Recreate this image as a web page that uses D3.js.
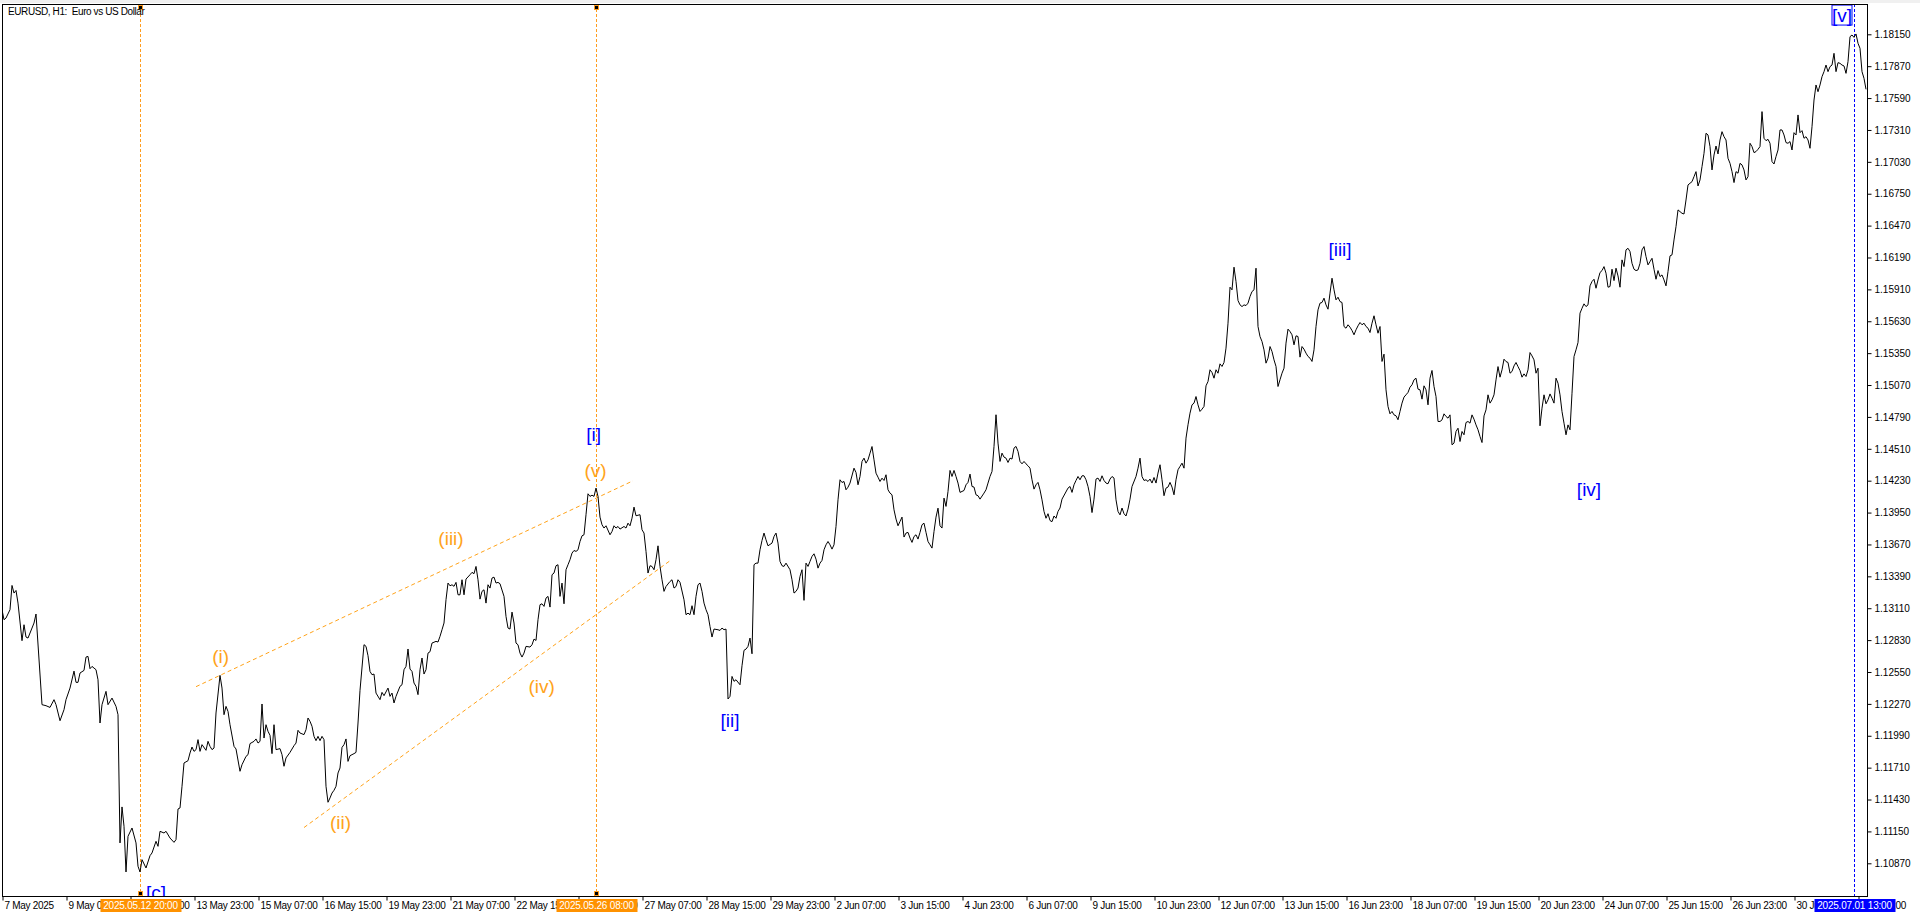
<!DOCTYPE html>
<html>
<head>
<meta charset="utf-8">
<script src="https://cdn.jsdelivr.net/npm/d3@7/dist/d3.min.js"></script>
<style>
  body { margin: 0; background: #fff; }
  svg { display: block; font-family: "Liberation Sans", Arial, sans-serif; }
</style>
</head>
<body>
<svg id="chart" width="1920" height="915"></svg>
<script>
// EURUSD H1 close prices.
// bar = H1 bar number counted from 2025.05.12 20:00 (bar 0)
const closesMay1 = [
  [-69,1.13097],[-68,1.13009],[-67,1.13024],[-65,1.13097],[-64,1.13310],[-63,1.13243],[-62,1.13266],[-61,1.13155],
  [-59,1.12825],[-58,1.12965],[-57,1.12857],[-56,1.12848],[-54,1.12936],[-53,1.12980],[-52,1.13059],[-49,1.12263],
  [-47,1.12254],[-45,1.12239],[-43,1.12307],[-42,1.12263],[-40,1.12122],[-38,1.12219],[-37,1.12307],[-35,1.12409],
  [-33,1.12558],[-32,1.12459],[-31,1.12459],[-30,1.12541],[-28,1.12564],[-27,1.12681],[-26,1.12687],[-25,1.12579],
  [-24,1.12599],[-22,1.12570],[-21,1.12482],[-20,1.12102],[-19,1.12263],[-17,1.12380],[-16,1.12263],[-14,1.12321],
  [-12,1.12248],[-11,1.12175],[-10,1.11049],[-9,1.11365],[-8,1.11195],[-7,1.10794],[-6,1.11107],[-4,1.11180],
  [-2,1.11049],[-1,1.10844],[0,1.10794],[1,1.10902],[3,1.10829],[5,1.10937],[6,1.10961],[8,1.11063],
  [9,1.11019],[10,1.11151],[12,1.11136],[13,1.11151],[15,1.11092],[17,1.11054],[18,1.11078],[19,1.11347],
  [20,1.11356],[21,1.11546],[22,1.11751],[24,1.11771],[25,1.11839],[26,1.11891],[27,1.11853],[28,1.11868],
  [29,1.11956],[30,1.11853],[31,1.11912],[33,1.11862],[34,1.11941],[35,1.11897],[36,1.11868],[37,1.11882],
  [38,1.12190],[40,1.12520],[41,1.12409],[42,1.12175],[43,1.12248],[44,1.12204],[45,1.12087],[47,1.11897],
  [48,1.11874],[50,1.11678],[51,1.11736],[53,1.11809],[54,1.11824],[55,1.11921],[57,1.11941],[58,1.11962],
  [59,1.11926],[60,1.11941],[61,1.12269],[62,1.11970],[63,1.12087],[64,1.12029],[65,1.11994],[66,1.11833],
  [67,1.12087],[68,1.11868],[70,1.11877],[71,1.11824],[72,1.11722],[73,1.11795],[75,1.11844],[77,1.11903],
  [78,1.11926],[79,1.12038],[80,1.12014],[82,1.12000],[83,1.12043],[84,1.12146],[85,1.12117],[86,1.12073],
  [87,1.11985],[88,1.11947],[89,1.11985],[90,1.11947],[91,1.11985],[92,1.11956],[93,1.11546],[94,1.11406],
  [95,1.11444],[96,1.11487],[97,1.11511],[98,1.11546],[99,1.11663],[100,1.11707],[101,1.11888],[102,1.11912],
  [103,1.11962],[104,1.11765],[105,1.11815],[107,1.11833],[108,1.11844],[109,1.12102],[110,1.12389],[112,1.12790],
  [113,1.12775],[114,1.12693],[115,1.12555],[116,1.12526],[117,1.12532],[118,1.12365],[120,1.12307],[121,1.12371],
  [122,1.12342],[124,1.12409],[125,1.12336],[126,1.12365],[127,1.12278],[128,1.12336],[130,1.12424],[131,1.12438],
  [132,1.12570],[133,1.12599],[134,1.12752],[135,1.12576],[136,1.12555],[137,1.12453],[138,1.12424],[139,1.12351],
  [140,1.12570],[141,1.12673],[142,1.12532],[143,1.12570],[144,1.12716],[145,1.12728],[146,1.12804],[148,1.12819],
  [149,1.12813],[150,1.12863],[151,1.12921],[152,1.12980],[153,1.13185],[154,1.13331],[155,1.13307],[156,1.13316],
  [157,1.13302],[158,1.13337],[159,1.13228],[160,1.13228],[161,1.13360],[162,1.13228],[163,1.13366],[165,1.13404],
  [166,1.13425],[167,1.13413],[168,1.13477]
];

const closesMay2 = [
  [169,1.13360],[170,1.13190],[171,1.13258],[172,1.13272],[173,1.13155],[174,1.13316],[175,1.13287],[176,1.13375],
  [177,1.13383],[178,1.13331],[179,1.13337],[180,1.13325],[182,1.13214],[183,1.13038],[184,1.12936],[185,1.12927],
  [186,1.13076],[187,1.12980],[188,1.12804],[189,1.12789],[190,1.12716],[191,1.12681],[192,1.12716],[193,1.12775],
  [195,1.12769],[196,1.12789],[197,1.12839],[198,1.12827],[199,1.13009],[200,1.13141],[201,1.13149],[202,1.13126],
  [203,1.13199],[204,1.13214],[205,1.13120],[206,1.13404],[207,1.13419],[208,1.13483],[209,1.13492],[210,1.13214],
  [211,1.13331],[212,1.13149],[213,1.13448],[214,1.13492],[215,1.13536],[216,1.13594],[217,1.13617],[218,1.13609],
  [219,1.13623],[220,1.13696],[221,1.13746],[222,1.13755],[223,1.13931],[224,1.14115],[225,1.14092],[226,1.14103],
  [227,1.14092],[228,1.14165],[229,1.14092],[230,1.13910],[231,1.13843],[232,1.13814],[233,1.13834],[235,1.13755],
  [236,1.13784],[237,1.13834],[238,1.13814],[239,1.13828],[240,1.13805],[242,1.13828],[243,1.13814],[244,1.13857],
  [245,1.13834],[246,1.13901],[247,1.13998],[248,1.13922],[250,1.13931],[251,1.13799],[252,1.13770],[253,1.13609],
  [254,1.13419],[255,1.13483],[256,1.13477],[257,1.13448],[258,1.13536],[259,1.13658],[260,1.13477],[261,1.13360],
  [262,1.13258],[263,1.13301],[265,1.13345],[266,1.13360],[267,1.13287],[268,1.13301],[269,1.13360],[270,1.13337],
  [272,1.13184],[273,1.13053],[274,1.13067],[275,1.13053],[276,1.13132],[277,1.13053],[278,1.13214],[279,1.13316],
  [280,1.13331],[281,1.13258],[282,1.13155],[283,1.13097],[284,1.13053],[285,1.12950],[286,1.12857],[287,1.12927],
  [289,1.12921],[290,1.12915],[291,1.12936],[292,1.12921],[293,1.12927],[294,1.12313],[295,1.12336],[296,1.12511],
  [297,1.12468],[298,1.12482],[300,1.12438],[301,1.12605],[302,1.12740],[303,1.12751],[304,1.12775],[305,1.12848],
  [306,1.12710],[307,1.13492],[308,1.13506],[309,1.13506],[310,1.13623],[311,1.13705],[312,1.13770],[313,1.13711],
  [314,1.13658],[316,1.13682],[317,1.13740],[318,1.13770],[319,1.13682],[320,1.13521],[321,1.13483],[322,1.13477],
  [323,1.13506],[325,1.13448],[326,1.13360],[327,1.13243],[328,1.13258],[329,1.13287],[330,1.13389],[331,1.13448],
  [332,1.13179],[333,1.13506],[334,1.13477],[335,1.13521],[336,1.13565],[337,1.13588],[338,1.13541],[339,1.13462],
  [340,1.13506],[341,1.13530],[342,1.13623],[343,1.13667],[344,1.13696],[345,1.13667],[346,1.13629],[347,1.13667],
  [348,1.13828],[349,1.14062],[350,1.14238],[351,1.14214],[352,1.14223],[353,1.14150],[354,1.14173],[355,1.14209],
  [357,1.14340],[358,1.14302],[359,1.14194],[360,1.14267],[361,1.14399],[362,1.14428],[363,1.14384],[364,1.14413],
  [365,1.14472],[366,1.14530],[367,1.14413],[368,1.14296],[369,1.14261],[370,1.14223],[371,1.14252],[372,1.14232],
  [373,1.14282],[374,1.14150],[375,1.14121],[376,1.14106],[377,1.13974],[378,1.13893],[379,1.13834],[380,1.13872],
  [381,1.13910],[382,1.13735],[383,1.13770],[384,1.13776],[385,1.13726],[386,1.13688],[387,1.13740],[388,1.13755],
  [389,1.13717],[390,1.13776],[391,1.13843],[392,1.13857],[393,1.13776],[394,1.13696],[395,1.13667],[396,1.13638],
  [397,1.13784],[398,1.13910],[399,1.13989],[400,1.13834],[401,1.13814],[402,1.14077],[403,1.14004],[404,1.14135],
  [405,1.14320]
];

const closesJun1 = [
  [406,1.14267],[407,1.14320],[408,1.14267],[409,1.14209],[410,1.14127],[412,1.14144],[413,1.14194],[414,1.14215],
  [415,1.14288],[416,1.14179],[417,1.14174],[418,1.14106],[419,1.14098],[420,1.14068],[422,1.14121],[423,1.14150],
  [424,1.14209],[425,1.14267],[426,1.14311],[427,1.14531],[428,1.14809],[429,1.14560],[430,1.14399],[431,1.14472],
  [432,1.14437],[433,1.14428],[434,1.14390],[435,1.14428],[436,1.14420],[437,1.14516],[438,1.14531],[439,1.14487],
  [440,1.14399],[441,1.14378],[442,1.14399],[443,1.14378],[444,1.14361],[445,1.14340],[446,1.14238],[447,1.14156],
  [448,1.14194],[449,1.14215],[450,1.14150],[451,1.14062],[452,1.13960],[453,1.13900],[454,1.13940],[455,1.13880],
  [456,1.13870],[457,1.13920],[458,1.13900],[459,1.13960],[460,1.13990],[461,1.14068],[464,1.14165],[465,1.14179],
  [466,1.14127],[467,1.14194],[468,1.14232],[469,1.14267],[470,1.14238],[471,1.14273],[472,1.14273],[473,1.14238],
  [474,1.14179],[475,1.14092],[476,1.13950],[477,1.14068],[478,1.14244],[479,1.14253],[480,1.14223],[481,1.14273],
  [482,1.14232],[483,1.14209],[484,1.14203],[485,1.14244],[486,1.14267],[487,1.14253],[488,1.14062],[489,1.13960],
  [490,1.13930],[491,1.13990],[492,1.13940],[493,1.13920],[494,1.13980],[495,1.14068],[496,1.14179],[498,1.14267],
  [499,1.14340],[500,1.14428],[501,1.14267],[502,1.14232],[503,1.14238],[504,1.14223],[505,1.14244],[506,1.14209],
  [507,1.14258],[508,1.14209],[509,1.14297],[510,1.14370],[511,1.14238],[512,1.14098],[513,1.14165],[514,1.14174],
  [515,1.14215],[516,1.14174],[517,1.14106],[518,1.14238],[519,1.14326],[520,1.14355],[521,1.14384],[522,1.14340],
  [523,1.14604],[524,1.14721],[525,1.14823],[526,1.14896],[527,1.14911],[528,1.14969],[529,1.14896],[530,1.14838],
  [531,1.14858],[532,1.14882],[533,1.15063],[534,1.15101],[535,1.15204],[536,1.15180],[537,1.15130],[538,1.15204],
  [539,1.15174],[540,1.15256],[541,1.15233],[542,1.15268],[543,1.15394],[544,1.15613],[545,1.15929],[546,1.15906],
  [547,1.16105],[548,1.15979],[549,1.15812],[550,1.15774],[551,1.15759],[552,1.15774],[553,1.15768],[554,1.15789],
  [555,1.15847],[556,1.15891],[557,1.15906],[558,1.16096],[559,1.15584],[560,1.15496],[561,1.15452],[562,1.15379],
  [563,1.15262],[564,1.15306],[565,1.15408],[566,1.15364],[567,1.15291],[568,1.15233],[569,1.15057],[570,1.15116],
  [571,1.15174],[572,1.15218],[573,1.15438],[574,1.15561],[575,1.15540],[576,1.15511],[577,1.15423],[578,1.15502],
  [579,1.15496],[580,1.15315],[581,1.15408],[582,1.15385],[583,1.15350],[584,1.15321],[585,1.15306],[586,1.15277],
  [587,1.15379],[588,1.15584],[589,1.15730],[590,1.15789],[591,1.15795],[592,1.15833],[593,1.15774],[594,1.15736],
  [595,1.15877],[596,1.16008],[597,1.15906],[598,1.15818],[599,1.15841],[600,1.15803],[601,1.15795],[602,1.15584],
  [603,1.15569],[604,1.15599],[605,1.15578],[606,1.15549],[607,1.15511],[608,1.15555],[609,1.15590],[610,1.15619],
  [611,1.15599],[612,1.15613],[613,1.15584],[614,1.15569],[615,1.15531],[616,1.15613],[617,1.15678],[618,1.15599],
  [619,1.15525],[620,1.15584],[621,1.15277],[622,1.15341],[623,1.15028],[624,1.14882],[625,1.14817],[626,1.14838],
  [627,1.14808],[628,1.14800],[629,1.14765],[630,1.14838],[631,1.14911],[632,1.14964],[633,1.14984],[634,1.15005],
  [635,1.15051],[636,1.15072],[637,1.15116],[638,1.15130],[639,1.15034],[640,1.15028],[641,1.14946],[642,1.15063],
  [643,1.15028],[644,1.14896],[645,1.15130],[646,1.15198]
];

const closesJun2 = [
  [647,1.15057],[648,1.14969],[649,1.14750],[650,1.14750],[651,1.14764],[652,1.14817],[653,1.14794],[654,1.14779],
  [655,1.14808],[656,1.14545],[657,1.14560],[658,1.14662],[659,1.14691],[660,1.14574],[661,1.14662],[662,1.14633],
  [663,1.14741],[664,1.14750],[665,1.14735],[666,1.14808],[667,1.14770],[668,1.14720],[669,1.14677],[670,1.14618],
  [671,1.14565],[672,1.14799],[673,1.14852],[674,1.14984],[675,1.14911],[676,1.14940],[677,1.14984],[678,1.15115],
  [679,1.15232],[680,1.15139],[681,1.15203],[682,1.15297],[683,1.15276],[684,1.15268],[685,1.15174],[686,1.15189],
  [687,1.15238],[688,1.15268],[689,1.15232],[690,1.15197],[691,1.15139],[692,1.15168],[693,1.15145],[694,1.15203],
  [695,1.15355],[696,1.15326],[697,1.15291],[698,1.15174],[699,1.15218],[700,1.14712],[701,1.14867],[702,1.14984],
  [703,1.14905],[704,1.14940],[705,1.14992],[706,1.14954],[707,1.14911],[708,1.15130],[709,1.15086],[710,1.14984],
  [711,1.14837],[712,1.14735],[713,1.14633],[714,1.14720],[715,1.14677],[716,1.14998],[717,1.15320],[718,1.15379],
  [719,1.15443],[720,1.15701],[721,1.15744],[722,1.15783],[723,1.15759],[724,1.15774],[725,1.15941],[726,1.15979],
  [727,1.15999],[728,1.15920],[729,1.15993],[730,1.16058],[731,1.16075],[732,1.16110],[733,1.16052],[734,1.15929],
  [735,1.15935],[736,1.16087],[737,1.15987],[738,1.16096],[739,1.16028],[740,1.15929],[741,1.16169],[742,1.16110],
  [743,1.16257],[744,1.16271],[745,1.16242],[746,1.16139],[747,1.16087],[748,1.16075],[749,1.16081],[750,1.16139],
  [751,1.16257],[752,1.16286],[753,1.16198],[754,1.16125],[755,1.16154],[756,1.16183],[757,1.16087],[758,1.15999],
  [759,1.16075],[760,1.16022],[761,1.16037],[762,1.15993],[763,1.15941],[764,1.16066],[765,1.16204],[766,1.16213],
  [767,1.16344],[768,1.16461],[769,1.16608],[770,1.16593],[771,1.16578],[772,1.16572],[773,1.16695],[774,1.16827],
  [775,1.16842],[776,1.16856],[777,1.16900],[778,1.16944],[779,1.16818],[780,1.16871],[781,1.16988],[782,1.17105],
  [783,1.17281],[784,1.17266],[785,1.17164],[786,1.16959],[787,1.17090],[788,1.17169],[789,1.17099],[790,1.17222],
  [791,1.17295],[792,1.17251],[793,1.17222],[794,1.17061],[795,1.17017],[796,1.16944],[797,1.16848],[798,1.16944],
  [799,1.16930],[800,1.17017],[801,1.17003],[802,1.16959],[803,1.16871],[804,1.16900],[805,1.17193],[806,1.17164],
  [807,1.17111],[808,1.17120],[809,1.17140],[810,1.17164],[811,1.17471],[812,1.17237],[813,1.17216],[814,1.17228],
  [815,1.17193],[816,1.17032],[817,1.17011],[818,1.17076],[819,1.17134],[820,1.17310],[821,1.17310],[822,1.17266],
  [823,1.17199],[824,1.17193],[825,1.17208],[826,1.17134],[827,1.17286],[828,1.17266],[829,1.17442],[830,1.17286],
  [831,1.17304],[832,1.17237],[833,1.17251],[834,1.17222],[835,1.17149],[836,1.17339],[837,1.17573],[838,1.17705],
  [839,1.17646],[840,1.17705],[841,1.17778],[842,1.17822],[843,1.17880],[844,1.17822],[845,1.17866],[846,1.17880],
  [847,1.17983],[848,1.17822],[849,1.17901],[850,1.17895],[851,1.17880],[852,1.17872],[853,1.17807],[854,1.17910],
  [855,1.18129],[856,1.18144],[857,1.18123],[858,1.18153],[859,1.18071],[860,1.18027],[861,1.17822],[862,1.17763],
  [863,1.17667]
];

// price scale labels
const priceTicks = [1.10870,1.11150,1.11430,1.11710,1.11990,1.12270,1.12550,1.12830,1.13110,1.13390,
  1.13670,1.13950,1.14230,1.14510,1.14790,1.15070,1.15350,1.15630,1.15910,1.16190,1.16470,1.16750,
  1.17030,1.17310,1.17590,1.17870,1.18150];

// time scale labels (bar number, text)
const timeTickBars = [-69,-37,-5,27,59,91,123,155,187,219,251,283,315,347,379,411,443,475,507,539,571,603,635,667,699,731,763,795,827,859];
const timeTickLabels = ["7 May 2025","9 May 07:00","12 May 15:00","13 May 23:00","15 May 07:00","16 May 15:00",
  "19 May 23:00","21 May 07:00","22 May 15:00","23 May 23:00","27 May 07:00","28 May 15:00","29 May 23:00",
  "2 Jun 07:00","3 Jun 15:00","4 Jun 23:00","6 Jun 07:00","9 Jun 15:00","10 Jun 23:00","12 Jun 07:00",
  "13 Jun 15:00","16 Jun 23:00","18 Jun 07:00","19 Jun 15:00","20 Jun 23:00","24 Jun 07:00","25 Jun 15:00",
  "26 Jun 23:00","30 Jun 07:00","1 Jul 15:00"];

// vertical marker lines
const vLines = [
  {bar: 0,   label: "2025.05.12 20:00", color: "#FF9D1F", box: "#FF9200", marks: true},
  {bar: 228, label: "2025.05.26 08:00", color: "#FF9D1F", box: "#FF9200", marks: true},
  {bar: 857, label: "2025.07.01 13:00", color: "#0000FF", box: "#0000FF", marks: false}
];

// wedge trendlines [bar, price]
const wedgeUpper = [[28, 1.12421], [246.5, 1.14229]];
const wedgeLower = [[82, 1.11184], [265, 1.13527]];

// Elliott wave labels
const minorWaves = [
  {t: "(i)",   bar: 40.3,  p: 1.12687},
  {t: "(ii)",  bar: 100.3, p: 1.11225},
  {t: "(iii)", bar: 155.5, p: 1.13726},
  {t: "(iv)",  bar: 200.8, p: 1.12424},
  {t: "(v)",   bar: 227.8, p: 1.14320}
];
const majorWaves = [
  {t: "[c]",   bar: 8,     p: 1.10613},
  {t: "[i]",   bar: 226.8, p: 1.14639},
  {t: "[ii]",  bar: 295,   p: 1.12126},
  {t: "[iii]", bar: 600,   p: 1.16263},
  {t: "[iv]",  bar: 724.5, p: 1.14150},
  {t: "[v]",   bar: 851,   p: 1.18319}
];

const closes = closesMay1.concat(closesMay2, closesJun1, closesJun2);

const plot = {left: 2, right: 1867, top: 4, bottom: 896};
const svg = d3.select("#chart");

let x = d3.scaleLinear().domain([-69, 863.5]).range([plot.left, plot.right]);
let y = d3.scaleLinear().domain([1.10870, 1.18150]).range([863.3, 34.3]);

// thin grey strip above the chart window
svg.append("rect").attr("x", 0).attr("y", 0).attr("width", 1920).attr("height", 3).attr("fill", "#f0f0f0");

svg.append("clipPath").attr("id", "clip")
  .append("rect")
  .attr("x", plot.left).attr("y", plot.top)
  .attr("width", plot.right - plot.left).attr("height", plot.bottom - plot.top);

let g = svg.append("g").attr("clip-path", "url(#clip)");

// vertical lines
g.selectAll(".vline").data(vLines).enter()
  .append("line")
  .attr("x1", d => Math.round(x(d.bar)) + 0.5).attr("x2", d => Math.round(x(d.bar)) + 0.5)
  .attr("y1", plot.top).attr("y2", plot.bottom)
  .attr("stroke", d => d.color)
  .attr("stroke-width", 1)
  .attr("stroke-dasharray", "3,2");

// trendlines
[wedgeUpper, wedgeLower].forEach(function(seg) {
  g.append("line")
    .attr("x1", x(seg[0][0])).attr("y1", y(seg[0][1]))
    .attr("x2", x(seg[1][0])).attr("y2", y(seg[1][1]))
    .attr("stroke", "#FFA31A")
    .attr("stroke-width", 1)
    .attr("stroke-dasharray", "4,3");
});

// price line
g.append("path")
  .datum(closes)
  .attr("fill", "none")
  .attr("stroke", "#000")
  .attr("stroke-width", 1)
  .attr("d", d3.line().x(d => x(d[0])).y(d => y(d[1])));

// wave labels
g.selectAll(".minor").data(minorWaves).enter()
  .append("text")
  .attr("x", d => x(d.bar)).attr("y", d => y(d.p))
  .attr("text-anchor", "middle").attr("dominant-baseline", "central")
  .style("font-size", "19px").attr("fill", "#FFA31A")
  .text(d => d.t);

g.selectAll(".major").data(majorWaves).enter()
  .append("text")
  .attr("x", d => x(d.bar)).attr("y", d => y(d.p))
  .attr("text-anchor", "middle").attr("dominant-baseline", "central")
  .style("font-size", "19px").attr("fill", "#0000FF")
  .text(d => d.t);

// selection frame around [v]
let lastWave = majorWaves[majorWaves.length - 1];
g.append("rect")
  .attr("x", x(lastWave.bar) - 10).attr("y", y(lastWave.p) - 10)
  .attr("width", 20).attr("height", 20)
  .attr("fill", "none").attr("stroke", "#0000FF").attr("stroke-width", 1);

// small anchor squares on the orange lines
vLines.filter(d => d.marks).forEach(function(d) {
  [plot.top + 1, plot.bottom - 5].forEach(function(yy) {
    svg.append("rect")
      .attr("x", Math.round(x(d.bar)) - 1.5).attr("y", yy + 0.5)
      .attr("width", 4).attr("height", 4)
      .attr("fill", "#000").attr("stroke", d.color).attr("stroke-width", 1);
  });
});

// chart frame
svg.append("rect")
  .attr("x", plot.left + 0.5).attr("y", plot.top + 0.5)
  .attr("width", plot.right - plot.left).attr("height", plot.bottom - plot.top)
  .attr("fill", "none").attr("stroke", "#000").attr("stroke-width", 1);

// price axis
let yAxis = svg.append("g")
  .attr("transform", `translate(${plot.right + 0.5},0)`)
  .call(d3.axisRight(y).tickValues(priceTicks).tickSize(4).tickPadding(3).tickFormat(d3.format(".5f")));
yAxis.select(".domain").remove();
yAxis.selectAll("text").style("font-size", "10px").attr("fill", "#000");

// time axis
let xAxis = svg.append("g")
  .attr("transform", `translate(0,${plot.bottom + 0.5})`)
  .call(d3.axisBottom(x).tickValues(timeTickBars).tickSize(4).tickPadding(1)
    .tickFormat((d, i) => timeTickLabels[i]));
xAxis.select(".domain").remove();
xAxis.selectAll("text")
  .attr("text-anchor", "start").attr("x", 2)
  .style("font-size", "10px").style("letter-spacing", "-0.3px").attr("fill", "#000");
xAxis.selectAll(".tick line").attr("transform", "translate(0.5,0)");

// highlighted time labels of the vertical lines
vLines.forEach(function(d) {
  let cx = Math.round(x(d.bar)) + 0.5;
  svg.append("rect")
    .attr("x", cx - 40).attr("y", plot.bottom + 3)
    .attr("width", 81).attr("height", 13)
    .attr("fill", d.box);
  svg.append("text")
    .attr("x", cx).attr("y", plot.bottom + 13)
    .attr("text-anchor", "middle")
    .style("font-size", "10px").style("letter-spacing", "-0.2px")
    .attr("fill", "#fff")
    .text(d.label);
});

// title
svg.append("text")
  .attr("x", 8).attr("y", 15)
  .attr("xml:space", "preserve")
  .style("font-size", "10px").style("letter-spacing", "-0.4px").attr("fill", "#000")
  .text("EURUSD, H1:  Euro vs US Dollar");
</script>
</body>
</html>
